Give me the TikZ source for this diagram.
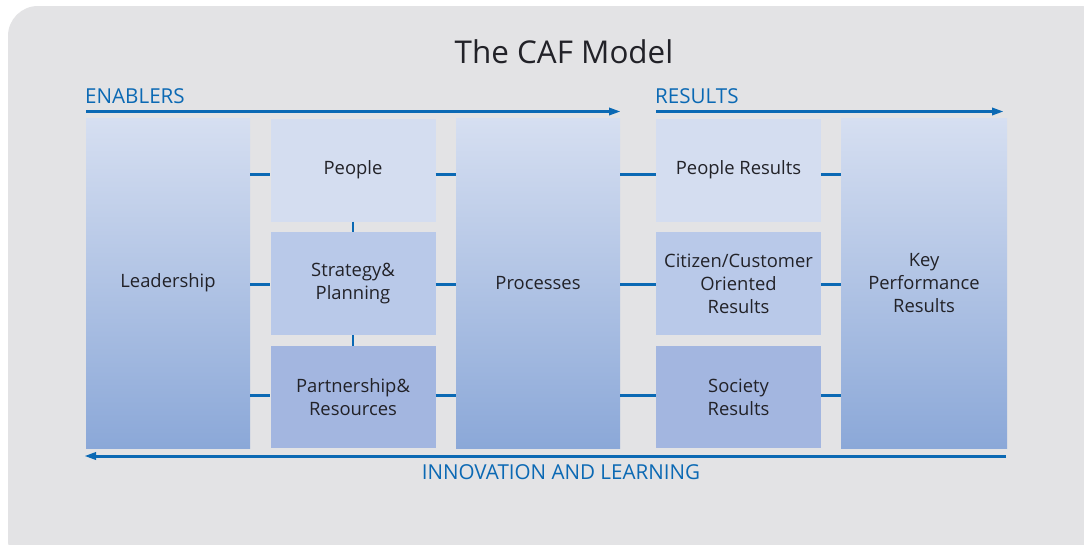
\documentclass[tikz,border=0pt]{standalone}
\usepackage{fontspec}
\setmainfont{Open Sans}
\usetikzlibrary{arrows.meta}
\definecolor{bggray}{HTML}{E3E3E5}
\definecolor{cafblue}{HTML}{0B69B4}
\definecolor{txt}{HTML}{222228}
\definecolor{topc}{HTML}{D6DFF1}
\definecolor{botc}{HTML}{8BA8D8}
\definecolor{boxa}{HTML}{D4DDF0}
\definecolor{boxb}{HTML}{B9C9E9}
\definecolor{boxc}{HTML}{A3B6E0}
\tikzset{
  base/.style={inner sep=0pt, align=center, text=txt, font=\fontsize{18.4}{23}\selectfont},
  tallbox/.style={base, minimum width=164pt, minimum height=330pt, top color=topc, bottom color=botc},
  smallbox/.style={base, minimum width=165pt, minimum height=103pt},
  conn/.style={draw=cafblue, line width=3pt},
  vconn/.style={draw=cafblue, line width=2.6pt},
  flow/.style={draw=cafblue, line width=3pt, -{Triangle[length=12pt,width=7pt]}},
  head/.style={inner sep=0pt, text=cafblue, font=\fontsize{20.6}{24}\selectfont}
}
\begin{document}
\begin{tikzpicture}[x=1pt,y=-1pt]
\useasboundingbox (0,0) rectangle (1084,544);
\fill[white] (0,0) rectangle (1084,544);
\fill[bggray, rounded corners=30pt] (8,6) rectangle (1110,570);

\node[inner sep=0pt, text=txt, font=\fontsize{31.4}{36}\selectfont, anchor=base] (title) at (564,63) {The CAF Model};

% columns
\node[tallbox] (lead) at (168,283) {Leadership};
\node[smallbox, fill=boxa] (people) at (353,170) {People};
\node[smallbox, fill=boxb] (strat) at (353,283.5) {Strategy\&\\Planning};
\node[smallbox, fill=boxc, minimum height=102pt] (part) at (353,397) {Partnership\&\\Resources};
\node[tallbox] (proc) at (538,283) {Processes};
\node[smallbox, fill=boxa] (pres) at (738.5,170) {People Results};
\node[smallbox, fill=boxb] (cres) at (738.5,283.5) {Citizen/Customer\\Oriented\\Results};
\node[smallbox, fill=boxc, minimum height=102pt] (sres) at (738.5,397) {Society\\Results};
\node[tallbox, minimum width=166pt] (kpr) at (924,283) {Key\\Performance\\Results};

% horizontal connectors
\coordinate (yp) at (0,174);
\coordinate (ys) at (0,284);
\coordinate (ya) at (0,395);
\foreach \y in {yp,ys,ya}{
  \draw[conn] (lead.east |- \y) -- (people.west |- \y);
  \draw[conn] (people.east |- \y) -- (proc.west |- \y);
  \draw[conn] (proc.east |- \y) -- (pres.west |- \y);
  \draw[conn] (pres.east |- \y) -- (kpr.west |- \y);
}
% vertical connectors
\draw[vconn] (people.south) -- (strat.north);
\draw[vconn] (strat.south) -- (part.north);

% flow arrows
\coordinate (ea) at (86,111.5);
\coordinate (eb) at (621,111.5);
\coordinate (ra) at (656,111.5);
\coordinate (rb) at (1004,111.5);
\coordinate (ia) at (1006,456);
\coordinate (ib) at (84,456);
\draw[flow] (ea) -- (eb);
\draw[flow] (ra) -- (rb);
\draw[flow] (ia) -- (ib);

\node[head, anchor=base west] (enab) at (85,103) {ENABLERS};
\node[head, anchor=base west] (resl) at (655,103) {RESULTS};
\node[head, anchor=base] (innov) at (561,479) {INNOVATION AND LEARNING};
\end{tikzpicture}
\end{document}
